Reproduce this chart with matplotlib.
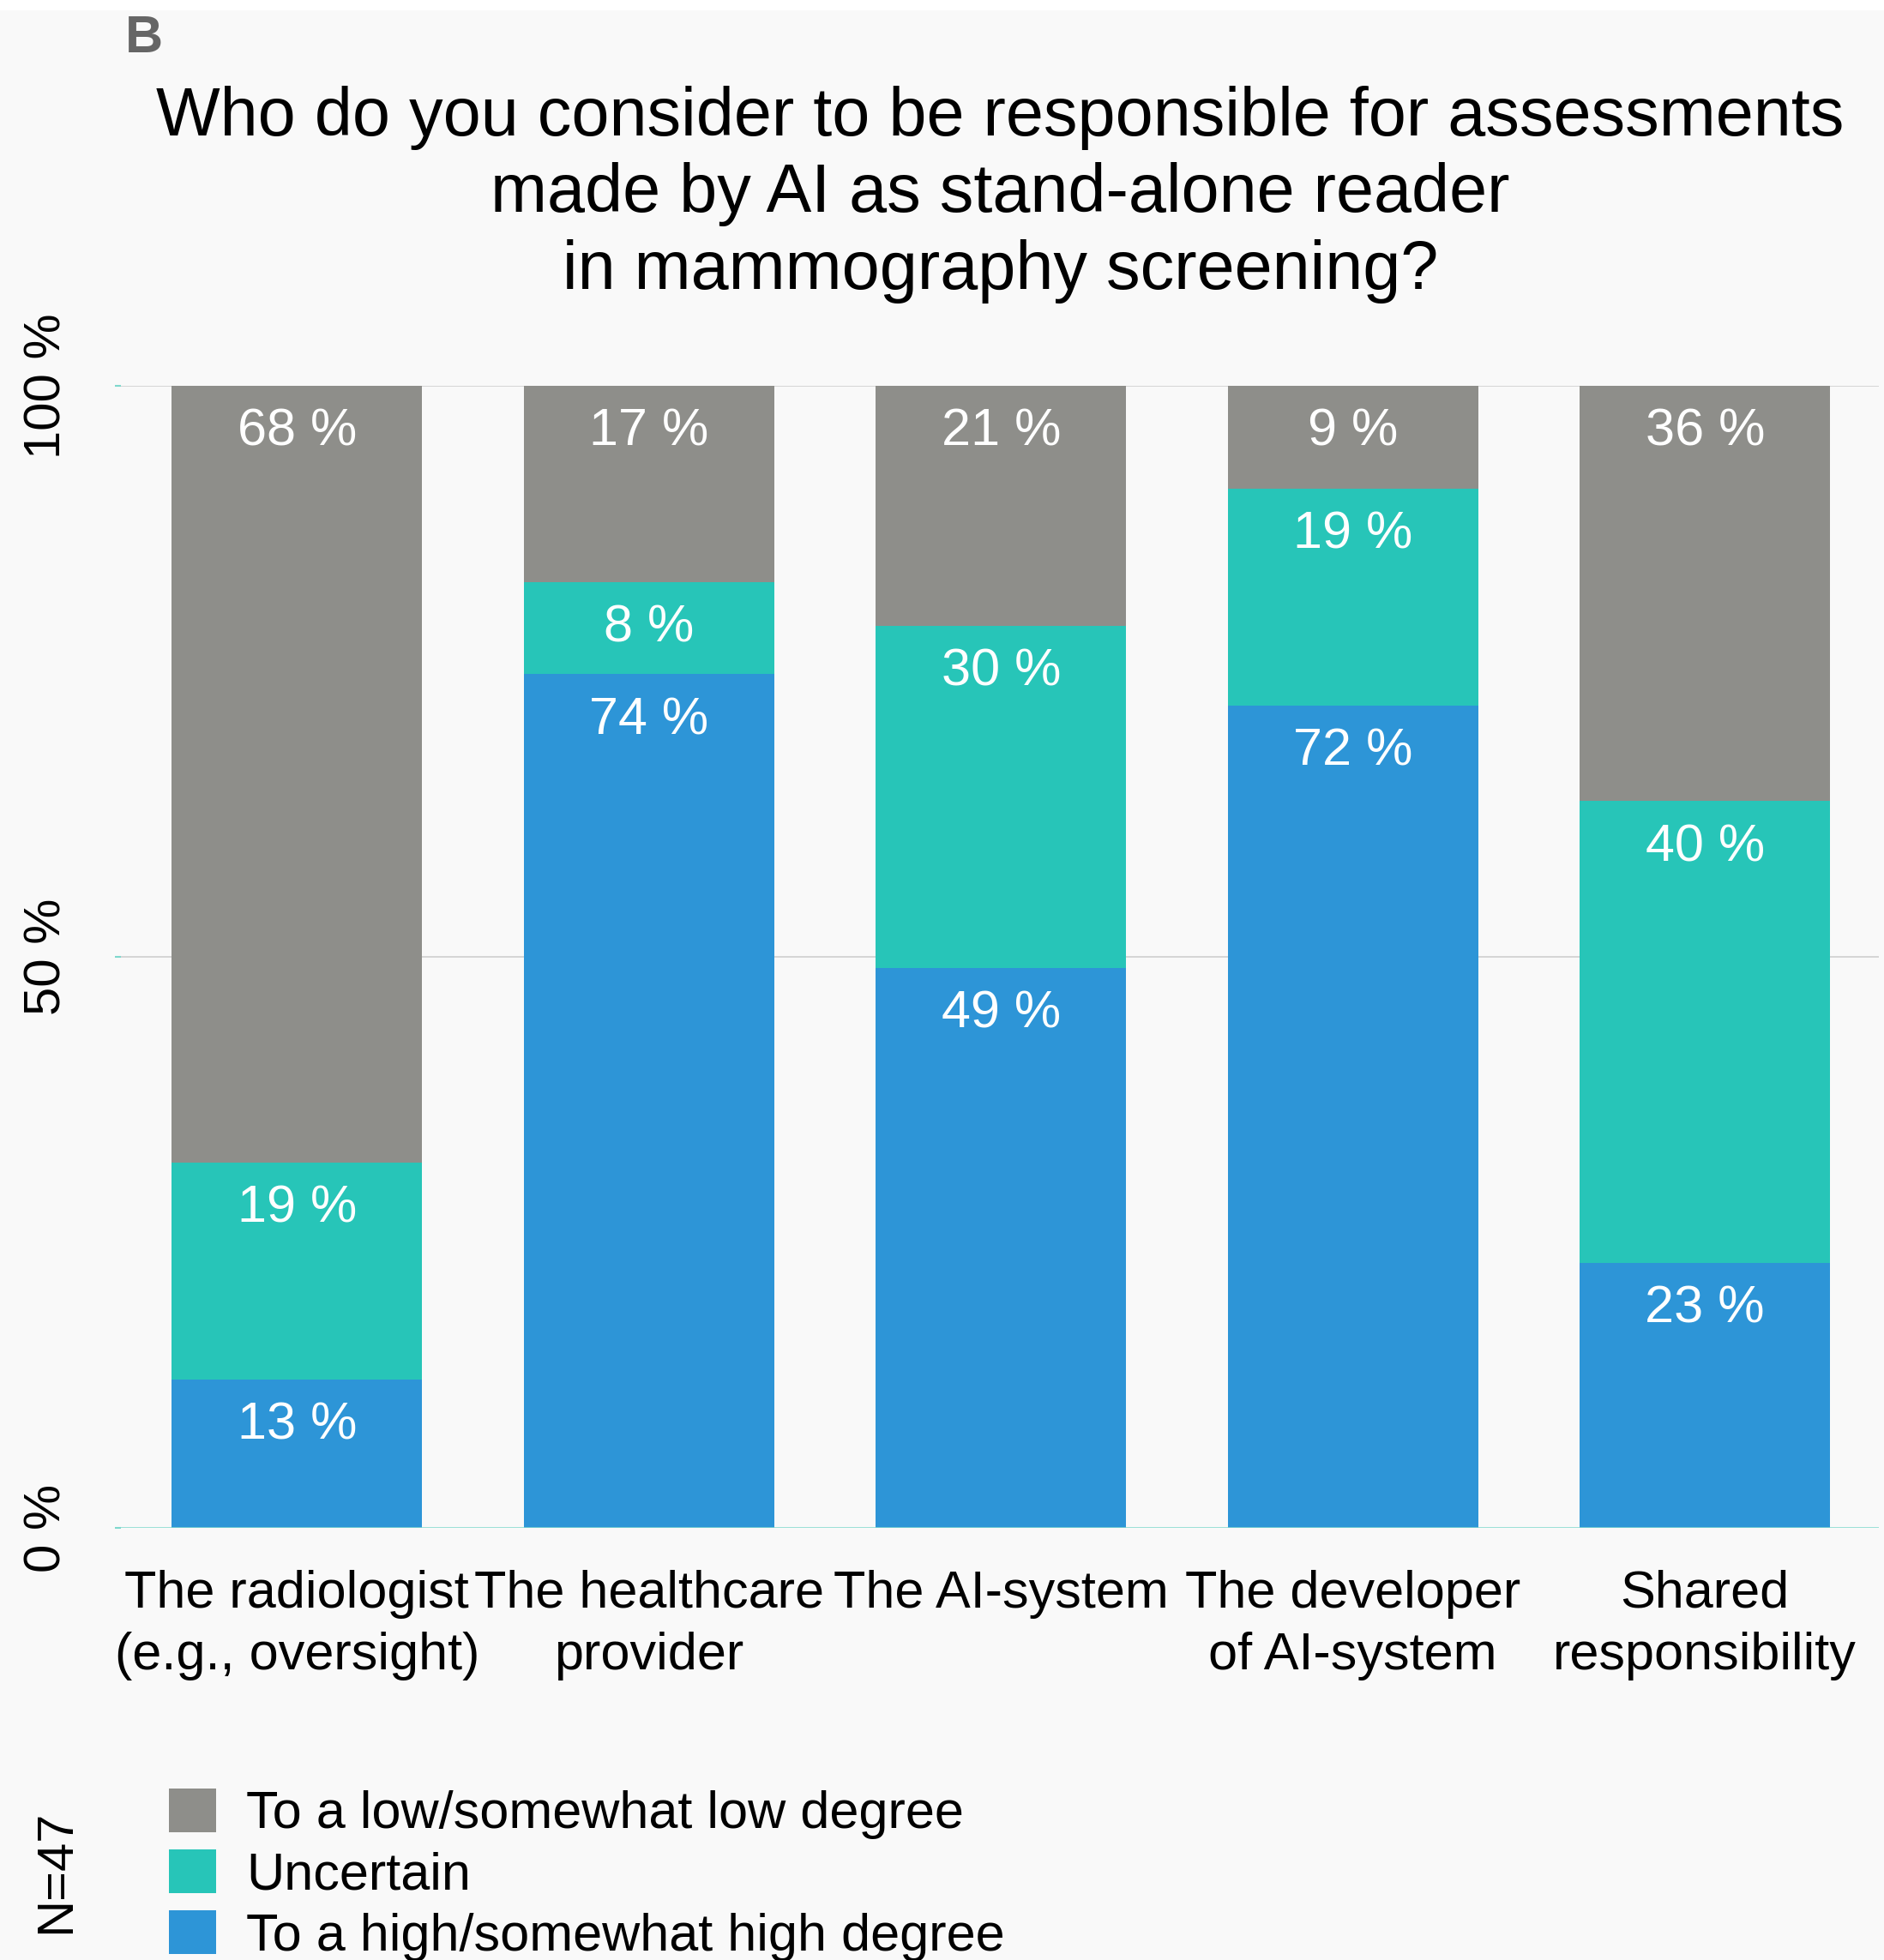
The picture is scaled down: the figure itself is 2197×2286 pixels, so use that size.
import numpy as np
import matplotlib
matplotlib.use("Agg")
import matplotlib.pyplot as plt
from matplotlib.patches import Rectangle

plt.rcParams["font.family"] = ["Liberation Sans", "DejaVu Sans"]

# data (percent of respondents, N=47)
categories = [
    "The radiologist\n(e.g., oversight)",
    "The healthcare\nprovider",
    "The AI-system",
    "The developer\nof AI-system",
    "Shared\nresponsibility",
]
high = [13, 74, 49, 72, 23]
uncertain = [19, 8, 30, 19, 40]
low = [68, 17, 21, 9, 36]
series_names = [
    "To a low/somewhat low degree",
    "Uncertain",
    "To a high/somewhat high degree",
]
yticks = [0, 50, 100]
ytick_labels = ["0 %", "50 %", "100 %"]

COLORS = {
    "low": "#8e8e8a",
    "uncertain": "#27c5b8",
    "high": "#2d95d7",
    "bg": "#f9f9f9",
    "grid": "#cfcfcf",
    "base": "#7fd8cd",
}

W, H, DPI = 2197, 2286, 100
fig = plt.figure(figsize=(W / DPI, H / DPI), dpi=DPI)
fig.patch.set_facecolor(COLORS["bg"])
fig.patches.append(Rectangle((0, 1 - 12 / H), 1, 12 / H, transform=fig.transFigure,
                             facecolor="white", edgecolor="none"))

ax = fig.add_axes([134 / W, 1 - 1782 / H, (2191 - 134) / W, (1782 - 450) / H])
ax.set_facecolor(COLORS["bg"])

x = np.arange(len(categories))
hi = np.array(high, dtype=float)
un = np.array(uncertain, dtype=float)
lo = np.array(low, dtype=float)
# stack is drawn as share of the answered total so each bar fills 0-100
tot = hi + un + lo
hi_h, un_h, lo_h = hi / tot * 100, un / tot * 100, lo / tot * 100

width = 0.711
b_hi = ax.bar(x, hi_h, width, color=COLORS["high"], zorder=3, label=series_names[2])
b_un = ax.bar(x, un_h, width, bottom=hi_h, color=COLORS["uncertain"], zorder=3,
              label=series_names[1])
b_lo = ax.bar(x, lo_h, width, bottom=hi_h + un_h, color=COLORS["low"], zorder=3,
              label=series_names[0])

# value labels just under the top of each segment
for bars, vals in ((b_hi, high), (b_un, uncertain), (b_lo, low)):
    for rect, v in zip(bars, vals):
        top = rect.get_y() + rect.get_height()
        ax.annotate(f"{v} %", (rect.get_x() + rect.get_width() / 2, top),
                    xytext=(0, -39), textcoords="offset points",
                    ha="center", va="center", color="white", fontsize=44, zorder=4)

ax.set_xlim(-0.517, 4.494)
ax.set_ylim(0, 100)
for s in ax.spines.values():
    s.set_visible(False)

for yv in (50, 100):
    ax.axhline(yv, color=COLORS["grid"], lw=1.2, zorder=1)
ax.axhline(0, color=COLORS["base"], lw=1.8, zorder=4)

ax.set_yticks(yticks)
ax.set_yticklabels(ytick_labels, rotation=90, ha="center", va="center", fontsize=43)
ax.tick_params(axis="y", length=5, width=1.5, color=COLORS["base"], direction="in", pad=57)

ax.set_xticks(x)
ax.set_xticklabels(categories, fontsize=44, linespacing=1.36)
ax.tick_params(axis="x", length=0, pad=35)

fig.text(0.531, 1 - 227 / H,
         "Who do you consider to be responsible for assessments\n"
         "made by AI as stand-alone reader\n"
         "in mammography screening?",
         ha="center", va="center", fontsize=57, linespacing=1.25)

fig.text(146 / W, 1 - 17 / H, "B", ha="left", va="top", fontsize=44,
         fontweight="bold", color="#666666")

fig.text(66 / W, 1 - 2183 / H, "N=47", rotation=90, ha="center", va="center", fontsize=43)

fig.legend(handles=[b_lo, b_un, b_hi], labels=series_names,
           loc="upper left", bbox_to_anchor=(197 / W, 1 - 2086 / H),
           frameon=False, fontsize=44, borderpad=0, borderaxespad=0,
           handlelength=0.9, handleheight=0.9, handletextpad=0.58,
           labelspacing=0.19)

fig.savefig("out.png", dpi=DPI, facecolor=fig.get_facecolor())
